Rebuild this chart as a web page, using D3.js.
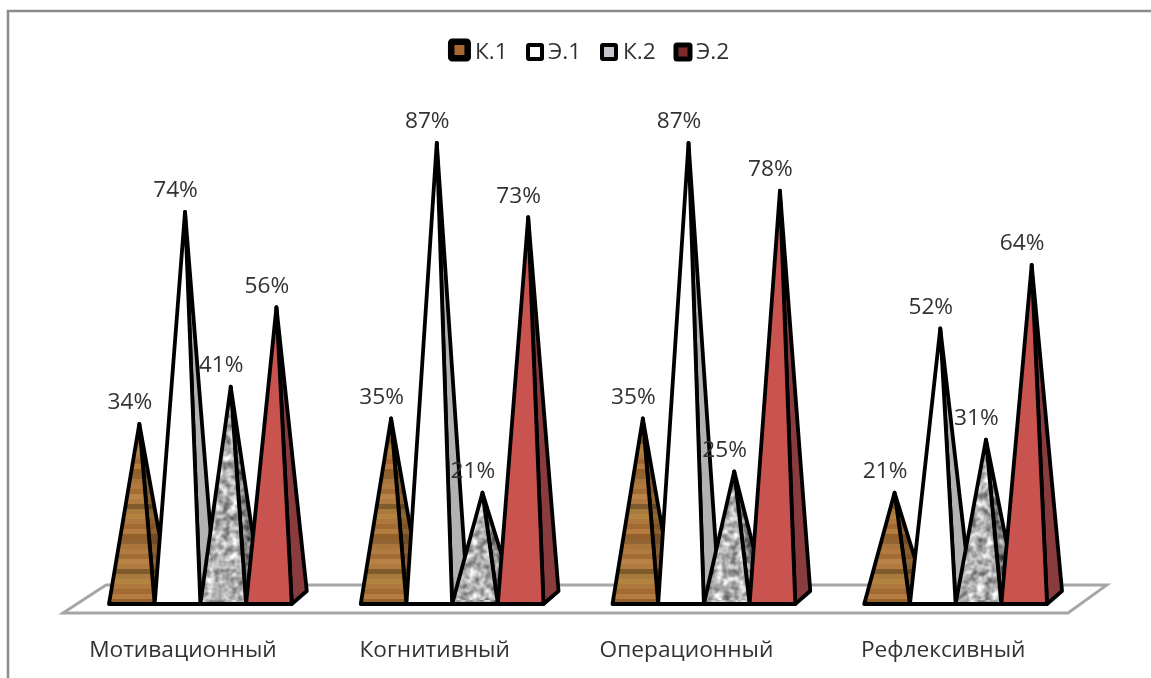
<!DOCTYPE html>
<html><head><meta charset="utf-8">
<script src="https://cdn.jsdelivr.net/npm/d3@7/dist/d3.min.js"></script>
<style>html,body{margin:0;padding:0;background:#fff}svg{display:block}text{font-family:"Open Sans",sans-serif;fill:#333}</style>
</head><body><svg id="c" width="1151" height="678"></svg>
<script>
const categories = ["Мотивационный","Когнитивный","Операционный","Рефлексивный"];
const seriesNames = ["К.1","Э.1","К.2","Э.2"];
const k1 = [34,35,35,21];
const e1 = [74,87,87,52];
const k2 = [41,21,25,31];
const e2 = [56,73,78,64];
const seriesValues = [k1,e1,k2,e2];
const frontFills = ["url(#wood)","#ffffff","url(#granite)","#c9524f"];
const sideFills = ["url(#woodDark)","#b2b2b2","url(#graniteDark)","#8a3b3e"];
const legendFills = ["#a8682f","#ffffff","#c4c6cc","#7c2c2c"];
const woodBands = ["#8f6430","#a9743b","#b07a40","#a26c36","#b98246","#b07a40","#7f5a2a","#a87a3e","#b3843f","#ad783c","#a26a33","#b47c40","#94602c"];

const W=1151,H=678;
const svg=d3.select("#c");
const defs=svg.append("defs");
const dx=15,dy=-13;

const soft=defs.append("filter").attr("id","soft").attr("x","-2%").attr("y","-2%").attr("width","104%").attr("height","104%");
soft.append("feGaussianBlur").attr("stdDeviation",0.6);

function woodPattern(id,dark){
  const p=defs.append("pattern").attr("id",id).attr("patternUnits","userSpaceOnUse")
    .attr("width",60).attr("height",woodBands.length*5).attr("y",604%(woodBands.length*5));
  woodBands.forEach((c,i)=>p.append("rect").attr("x",0).attr("y",i*5).attr("width",60).attr("height",5)
    .attr("fill",dark?d3.color(c).darker(0.7):c));
}
woodPattern("wood",false);woodPattern("woodDark",true);

function granite(id,off,seed){
  const f=defs.append("filter").attr("id",id+"F").attr("x",0).attr("y",0).attr("width","100%").attr("height","100%").attr("color-interpolation-filters","sRGB");
  f.append("feTurbulence").attr("type","fractalNoise").attr("baseFrequency",0.13).attr("numOctaves",2).attr("seed",seed);
  f.append("feColorMatrix").attr("type","matrix").attr("values",
    `1.0 0 0 0 ${off}  1.0 0 0 0 ${off}  1.0 0 0 0 ${off}  0 0 0 0 1`);
  const p=defs.append("pattern").attr("id",id).attr("patternUnits","userSpaceOnUse").attr("width",300).attr("height",300);
  p.append("rect").attr("width",300).attr("height",300).attr("filter",`url(#${id}F)`);
}
granite("granite",0.2,4);granite("graniteDark",-0.02,9);

const root=svg.append("g").attr("filter","url(#soft)");

root.append("path").attr("d",`M8,${H} L8,11 L${W},11`).attr("fill","none").attr("stroke","#8c8c8c").attr("stroke-width",2.5);

const y=d3.scaleLinear().domain([0,100]).range([604,74]);
const x0=d3.scaleBand().domain(categories).range([74.5,1081.5]);
const barW=45.7;
const x1=d3.scaleBand().domain(seriesNames).range([0,barW*4]);
const groupOffset=(x0.bandwidth()-barW*4)/2;

const fl=d3.line();
root.append("path").attr("d",fl([[63,613],[106,585],[1107,585],[1068,613]])+"Z")
  .attr("fill","#fff").attr("stroke","#a6a6a6").attr("stroke-width",2.8);

categories.forEach((cat,ci)=>{
  const g=root.append("g");
  seriesNames.forEach((s,si)=>{
    const v=seriesValues[si][ci];
    const xl=x0(cat)+groupOffset+x1(s), xr=xl+barW, b=y(0);
    const ax=(xl+xr)/2+dx/2, ay=y(v);
    g.append("path").attr("d",fl([[xr,b],[ax,ay],[xr+dx,b+dy]])+"Z")
      .attr("fill",sideFills[si]).attr("stroke","#000").attr("stroke-width",3.8).attr("stroke-linejoin","round");
    g.append("path").attr("d",fl([[xl,b],[ax,ay],[xr,b]])+"Z")
      .attr("fill",frontFills[si]).attr("stroke","#000").attr("stroke-width",3.8).attr("stroke-linejoin","round");
  });
  seriesNames.forEach((s,si)=>{
    const v=seriesValues[si][ci];
    const xl=x0(cat)+groupOffset+x1(s);
    g.append("text").attr("x",xl+barW/2-2).attr("y",y(v)-14.5)
      .attr("text-anchor","middle").attr("font-size",22.7).text(v+"%");
  });
  root.append("text").attr("x",x0(cat)+groupOffset+74+(ci===3?5:0)).attr("y",657)
    .attr("text-anchor","middle").attr("font-size",22.7).text(cat);
});

const legendX=[451.2,528,602,676], legendY=[41.7,45,45,45], legendS=[16.5,14,14,14], legendSW=[6.5,4,4,5];
const legendText=[475,548,623,696];
seriesNames.forEach((s,i)=>{
  root.append("rect").attr("x",legendX[i]).attr("y",legendY[i]).attr("width",legendS[i]).attr("height",legendS[i])
    .attr("rx",1).attr("fill",legendFills[i]).attr("stroke","#000").attr("stroke-width",legendSW[i]);
  root.append("text").attr("x",legendText[i]).attr("y",59).attr("font-size",22.7).text(s);
});
</script></body></html>
